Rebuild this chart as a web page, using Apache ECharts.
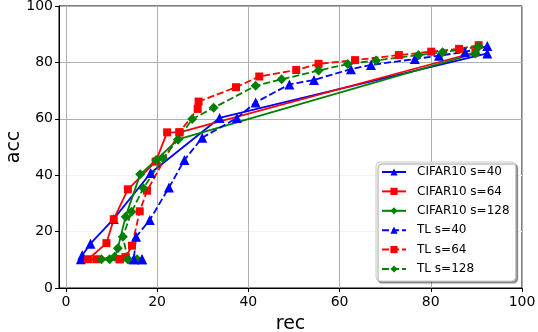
<!DOCTYPE html>
<html>
<head>
<meta charset="utf-8">
<script src="https://cdn.jsdelivr.net/npm/echarts@6/dist/echarts.min.js"></script>
<style>
html,body{margin:0;padding:0;background:#fff;}
#chart{width:538px;height:332px;}
</style>
</head>
<body>
<div id="chart"></div>
<script>
// ---- data (rec, acc) ----
const seriesNames = ['CIFAR10 s=40', 'CIFAR10 s=64', 'CIFAR10 s=128', 'TL s=40', 'TL s=64', 'TL s=128'];
const xTicks = [0, 20, 40, 60, 80, 100];
const yTicks = [0, 20, 40, 60, 80, 100];

const cifar40 = [[16.7,10.2],[14.9,10.2],[3.3,10.2],[3.6,11.6],[5.4,15.7],[10.5,24.5],[18.6,40.8],[33.7,60.3],[92.4,83.2]];
const cifar64 = [[13.1,10.9],[11.8,10.2],[6.7,10.2],[4.9,10.2],[8.9,15.9],[10.5,24.4],[13.6,35.0],[19.7,44.8],[22.2,55.2],[24.9,55.2],[89.8,83.6]];
const cifar128 = [[15.6,10.2],[13.6,10.2],[9.6,10.2],[7.8,10.2],[10.7,11.1],[11.4,14.1],[13.1,25.3],[16.3,40.3],[19.8,45.4],[24.6,52.7],[89.8,83.2]];
const tl40 = [[16.7,10.2],[14.9,10.2],[15.4,18.2],[18.4,24.1],[22.6,35.6],[26.0,45.4],[29.9,53.3],[37.5,60.3],[41.6,65.8],[49.0,72.2],[54.4,73.8],[62.5,77.6],[66.9,79.1],[76.5,81.2],[81.8,82.4],[87.5,83.7],[92.4,85.8]];
const tl64 = [[11.8,10.2],[13.1,10.9],[14.5,15.0],[16.2,27.2],[17.8,34.5],[24.9,55.2],[28.9,63.5],[29.1,66.1],[37.3,71.2],[42.4,75.0],[50.5,77.3],[55.4,79.5],[63.4,80.8],[73.0,82.6],[80.1,83.8],[86.2,84.8],[90.5,86.1]];
const tl128 = [[13.6,10.2],[12.5,18.2],[14.4,27.0],[17.0,35.4],[21.3,46.0],[24.6,52.7],[27.7,59.9],[32.4,63.9],[41.6,71.7],[47.3,74.0],[55.4,77.1],[61.8,79.4],[68.0,80.7],[77.3,82.6],[82.6,83.6],[90.5,85.6]];

const allData = [cifar40, cifar64, cifar128, tl40, tl64, tl128];
const colors = ['#0000ff', '#ff0000', '#008000', '#0000ff', '#ff0000', '#008000'];
const symbols = ['triangle', 'rect', 'diamond', 'triangle', 'rect', 'diamond'];
const symbolSizes = [10, 8, 10, 10, 8, 10];
const lineTypes = ['solid', 'solid', 'solid', [7, 3], [7, 3], [7, 3]];

const FONT = 'DejaVu Sans';
const chart = echarts.init(document.getElementById('chart'), null, {renderer: 'canvas'});

const series = allData.map((d, i) => ({
  name: seriesNames[i],
  type: 'line',
  data: d,
  symbol: symbols[i],
  symbolSize: symbolSizes[i],
  showAllSymbol: true,
  animation: false,
  color: colors[i],
  itemStyle: {color: colors[i], borderWidth: 0},
  lineStyle: {color: colors[i], width: 1.8, type: lineTypes[i]},
  emphasis: {disabled: true}
}));

chart.setOption({
  animation: false,
  backgroundColor: '#ffffff',
  grid: {left: 59, top: 6, width: 463, height: 282, show: true, borderColor: '#000', borderWidth: 1,
         backgroundColor: 'transparent', containLabel: false, outerBoundsMode: 'none'},
  xAxis: {
    type: 'value', min: -1.5, max: 100,
    name: 'rec', nameLocation: 'middle', nameGap: 27,
    nameTextStyle: {fontFamily: FONT, fontSize: 19, color: '#000'},
    axisLine: {show: true, onZero: false, lineStyle: {color: '#000', width: 1}},
    axisTick: {show: true, length: 4, lineStyle: {color: '#000'}, customValues: xTicks},
    axisLabel: {fontFamily: FONT, fontSize: 14, color: '#000', margin: 7, customValues: xTicks},
    splitLine: {show: true, lineStyle: {color: '#b0b0b0', width: 1}}
  },
  yAxis: {
    type: 'value', min: 0, max: 100, interval: 20,
    name: 'acc', nameLocation: 'middle', nameGap: 35, nameMoveOverlap: false,
    nameTextStyle: {fontFamily: FONT, fontSize: 19, color: '#000'},
    axisLine: {show: true, onZero: false, lineStyle: {color: '#000', width: 1}},
    axisTick: {show: true, length: 4, lineStyle: {color: '#000'}},
    axisLabel: {fontFamily: FONT, fontSize: 14, color: '#000', margin: 6, formatter: v => String(v)},
    splitLine: {show: true, lineStyle: {color: ['#b0b0b0', '#f3f3f3', '#f3f3f3', '#b0b0b0', '#b0b0b0', '#b0b0b0'], width: 1}}
  },
  legend: {
    orient: 'vertical', left: 376, top: 162,
    padding: [4, 6, 6, 5],
    itemWidth: 24, itemHeight: 9, itemGap: 7.4,
    backgroundColor: '#ffffff', borderColor: '#cccccc', borderWidth: 1, borderRadius: 4,
    shadowColor: 'rgba(0,0,0,0.4)', shadowBlur: 1, shadowOffsetX: 2, shadowOffsetY: 2,
    textStyle: {fontFamily: FONT, fontSize: 12, color: '#000', padding: [0, 0, 0, 6]},
    data: seriesNames
  },
  series: series
});
</script>
</body>
</html>
